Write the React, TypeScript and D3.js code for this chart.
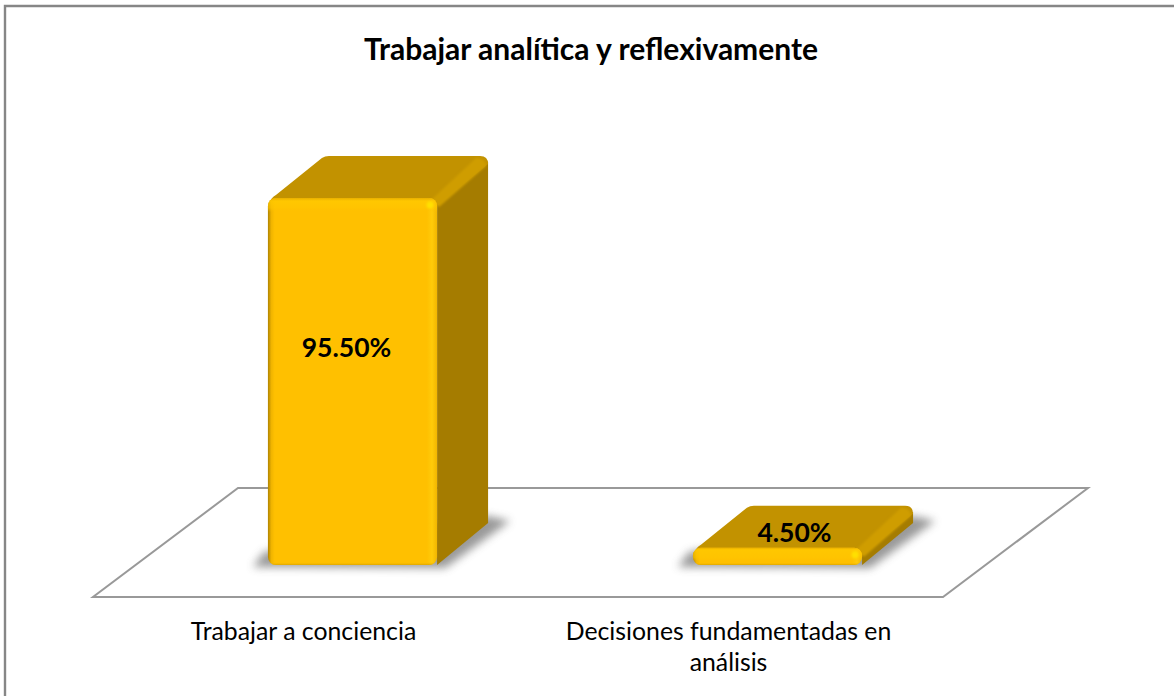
import React from "react";
import * as d3 from "d3";

const categories = ["Trabajar a conciencia", "Decisiones fundamentadas en análisis"];
const categoryLines = [["Trabajar a conciencia"], ["Decisiones fundamentadas en", "análisis"]];
const values = [95.5, 4.5];
const valueLabels = ["95.50%", "4.50%"];
const title = "Trabajar analítica y reflexivamente";

const W = 1174, H = 696;
const FONT = "Lato, 'Open Sans', sans-serif";
const floorLeft = 93, floorRight = 943, floorFront = 597, floorBack = 488, floorDx = 145;
const baseY = 565;
const depthX = 51, depthY = 42, barShift = 47;

const x = d3.scaleBand<string>().domain(categories).range([floorLeft, floorRight]);
const y = d3.scaleLinear().domain([0, 95.5]).range([baseY, 198]);
const barW = x.bandwidth() * 0.398;
const line = d3.line();

function Bar({ cat, value, label, i }: { cat: string; value: number; label: string; i: number }) {
  const cx = x(cat)! + x.bandwidth() / 2 + barShift;
  const l = cx - barW / 2, r = cx + barW / 2;
  const t = y(value), b = y(0);
  const h = b - t;
  const R = 8;
  const top = `M${l + 2},${t + 4} Q${l + 3},${t} ${l + 8},${t - 3} L${l + depthX + 3},${t - depthY + 2} Q${l + depthX + 6},${t - depthY} ${l + depthX + 10},${t - depthY}
    L${r + depthX - 8},${t - depthY} Q${r + depthX},${t - depthY} ${r + depthX},${t - depthY + 8} L${r},${t + 8} L${r - 5},${t + 4} Z`;
  const band = `M${r - 6},${t + 2} L${r + depthX - 12},${t - depthY + 2} Q${r + depthX - 3},${t - depthY + 2} ${r + depthX - 2},${t - depthY + 10} L${r + 2},${t + 9} Z`;
  const side = `M${r},${t + 6} L${r + depthX},${t - depthY + 6} L${r + depthX},${b - depthY} L${r},${b} Z`;
  const shadow = line([
    [l - 15, b + 2], [l - 4, b - 13], [r + depthX, b - 49], [r + depthX + 22, b - 44], [r + 8, b + 3],
  ])! + "Z";
  const labelY = value > 50 ? y(value * 0.6) + 2 : t - 16;
  const gradId = `v${i}`;
  return (
    <g>
      <path d={shadow} fill="#808080" filter="url(#blur)" opacity={0.8} />
      <path d={side} fill="#a57c00" />
      <path d={top} fill="#c29200" />
      <path d={band} fill="#cf9d00" filter="url(#soft)" />
      <rect x={l} y={t} width={barW} height={h} rx={R} ry={R} fill="url(#front)" />
      <rect x={l} y={t} width={barW} height={h} rx={R} ry={R} fill={`url(#${gradId})`} />
      <defs>
        <linearGradient id={gradId} x1="0" y1={t} x2="0" y2={b} gradientUnits="userSpaceOnUse">
          <stop offset="0" stopColor="#e6ad00" stopOpacity={0.9} />
          <stop offset={Math.min(0.12, 3 / h)} stopColor="#ffc900" stopOpacity={0.8} />
          <stop offset={Math.min(0.6, 10 / h)} stopColor="#ffc600" stopOpacity={0.6} />
          <stop offset={Math.min(0.8, 14 / h)} stopColor="#ffc000" stopOpacity={0} />
          <stop offset={Math.max(0.85, 1 - 3 / h)} stopColor="#ffc000" stopOpacity={0} />
          <stop offset="1" stopColor="#d9a300" stopOpacity={0.9} />
        </linearGradient>
      </defs>
      <circle cx={r - 7} cy={t + 7} r={3.5} fill="#ffe000" filter="url(#soft)" />
      <text x={cx + (value > 50 ? -6 : 17)} y={labelY} textAnchor="middle" dominantBaseline="central"
        fontFamily={FONT} fontSize={26.5} fontWeight={700} fill="#000">{label}</text>
    </g>
  );
}

export default function App() {
  const floor = line([
    [floorLeft, floorFront], [floorRight, floorFront],
    [floorRight + floorDx, floorBack], [floorLeft + floorDx, floorBack],
  ])! + "Z";
  return (
    <svg width={W} height={H} viewBox={`0 0 ${W} ${H}`} style={{ position: "absolute", left: 0, top: 0, display: "block", background: "#fff" }}>
      <defs>
        <filter id="blur" x="-20%" y="-50%" width="140%" height="200%"><feGaussianBlur stdDeviation="4.5" /></filter>
        <filter id="soft" x="-30%" y="-30%" width="160%" height="160%"><feGaussianBlur stdDeviation="1.2" /></filter>
        <linearGradient id="front" x1="0" y1="0" x2="1" y2="0">
          <stop offset="0" stopColor="#b08400" />
          <stop offset="0.02" stopColor="#f0b400" />
          <stop offset="0.04" stopColor="#ffc000" />
          <stop offset="0.94" stopColor="#ffc000" />
          <stop offset="0.97" stopColor="#ffcb0a" />
          <stop offset="1" stopColor="#f2b600" />
        </linearGradient>
      </defs>
      <path d={`M5,${H} V6 H${W}`} fill="none" stroke="#868686" strokeWidth={2.4} />
      <text x={591} y={48} textAnchor="middle" dominantBaseline="central" fontFamily={FONT} fontSize={30} fontWeight={700} fill="#000">{title}</text>
      <path d={floor} fill="#fff" stroke="#999" strokeWidth={2} />
      {categories.map((c, i) => <Bar key={c} cat={c} value={values[i]} label={valueLabels[i]} i={i} />)}
      {categories.map((c, i) => (
        <text key={c} fontFamily={FONT} fontSize={24.8} fill="#000" textAnchor="middle">
          {categoryLines[i].map((t, j) => <tspan key={t} x={x(c)! + x.bandwidth() / 2 - 2} y={640 + j * 31}>{t}</tspan>)}
        </text>
      ))}
    </svg>
  );
}
